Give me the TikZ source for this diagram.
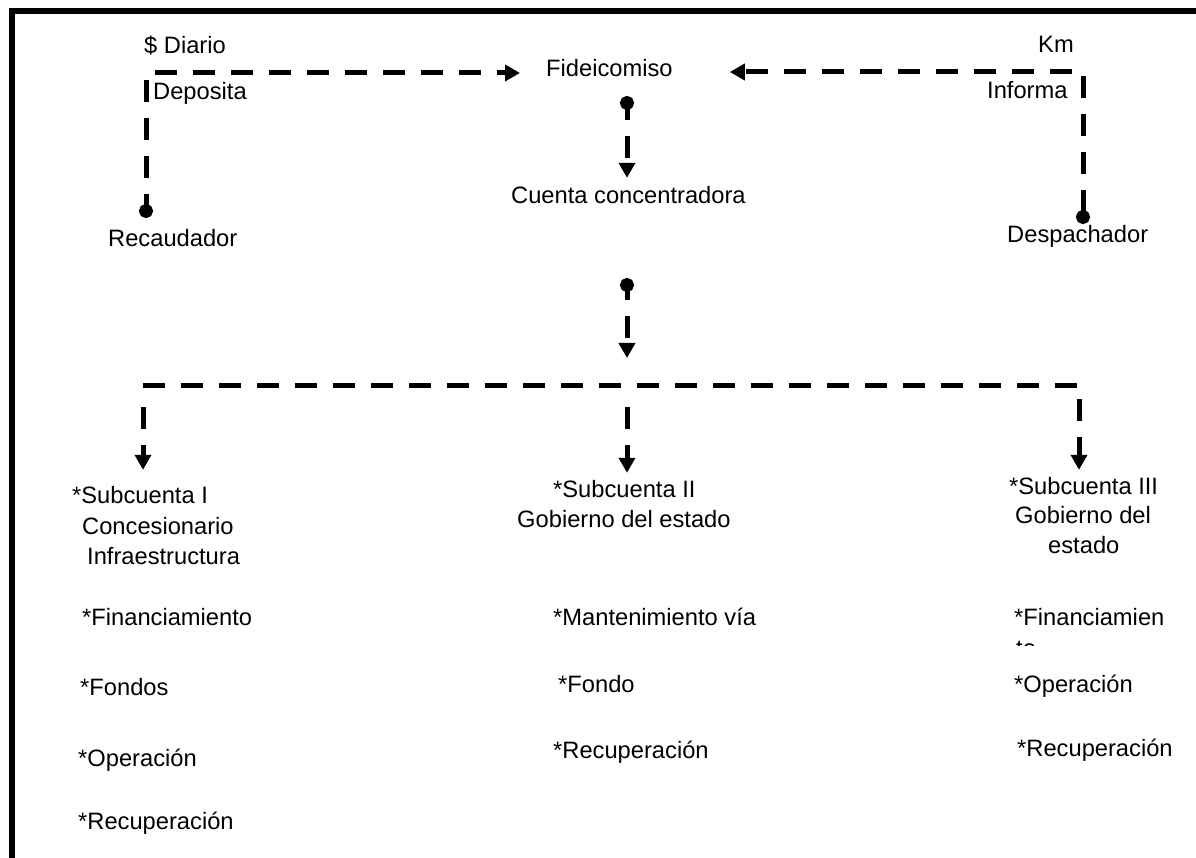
\documentclass[tikz,border=0pt]{standalone}
\usepackage{fontspec}
\setmainfont{Liberation Sans}
\usetikzlibrary{arrows.meta, calc}

\begin{document}
\begin{tikzpicture}[x=1pt, y=-1pt,
    txt/.style={anchor=base west, inner sep=0pt, text height=17pt, text depth=5pt,
        font=\fontsize{23.7pt}{31pt}\selectfont},
    dashline/.style={line width=5pt, dash pattern=on 22pt off 16pt},
    flow/.style={dashline, -{Triangle[length=15pt, width=16pt]}},
    dotflow/.style={dashline, {Circle[length=14pt]}-{Triangle[length=15pt, width=16pt]}}]

    \useasboundingbox (0,0) rectangle (1196,858);
    \draw[line width=5.5pt] (12,858) -- (12,11) -- (1196,11);

    \node[txt] (diario) at (144,54) {\$ Diario};
    \node[txt] (deposita) at (153,100) {Deposita};
    \node[txt] (recaudador) at (108,247) {Recaudador};
    \node[txt] (fide) at (546,77) {Fideicomiso};
    \node[txt] (cuenta) at (511,204) {Cuenta concentradora};
    \node[txt] (km) at (1038,53) {Km};
    \node[txt] (informa) at (987,99) {Informa};
    \node[txt] (despachador) at (1007,243) {Despachador};

    \node[txt] (sub1) at (72,503) {*Subcuenta I};
    \node[txt] (sub1b) at (82,534) {Concesionario};
    \node[txt] (sub1c) at (87,564) {Infraestructura};
    \node[txt] (fin1) at (82,625) {*Financiamiento};
    \node[txt] (fondos1) at (80,695) {*Fondos};
    \node[txt] (oper1) at (78,766) {*Operación};
    \node[txt] (recup1) at (78,829) {*Recuperación};

    \node[txt] (sub2) at (553,497) {*Subcuenta II};
    \node[txt] (sub2b) at (517,527) {Gobierno del estado};
    \node[txt] (mant2) at (553,625) {*Mantenimiento vía};
    \node[txt] (fondo2) at (558,692) {*Fondo};
    \node[txt] (recup2) at (553,758) {*Recuperación};

    \node[txt] (sub3) at (1009,494) {*Subcuenta III};
    \node[txt] (sub3b) at (1015,523) {Gobierno del};
    \node[txt] (sub3c) at (1048,553) {estado};
    \node[txt] (fin3) at (1014,625) {*Financiamien};
    \begin{scope}
        \clip (1000,600) rectangle (1196,645);
        \node[txt] (fin3b) at (1016,656) {to};
    \end{scope}
    \node[txt] (oper3) at (1014,692) {*Operación};
    \node[txt] (recup3) at (1017,756) {*Recuperación};

    \coordinate (recdot) at (146,218);
    \coordinate (despdot) at (1083,224);
    \coordinate (fidedot) at (627,96);
    \coordinate (cuentadot) at (627,278);
    \coordinate (split) at (627,358);
    \coordinate (busL) at (143,385);
    \coordinate (busM) at (627,385);
    \coordinate (busR) at (1079,385);
    \path ([yshift=9pt]cuenta.north) coordinate (cuentatip);

    \draw[dotflow, dash phase=10pt] (recdot) |- ([xshift=-26pt, yshift=-2pt]fide.west);
    \draw[dotflow, dash phase=0pt] (despdot) |- ([xshift=57pt, yshift=-1pt]fide.east);
    \draw[dotflow, dash phase=9pt] (fidedot) -- (fidedot |- cuentatip);
    \draw[dotflow, dash phase=11pt] (cuentadot) -- (split);

    \draw[flow, shorten >=7pt] (busL) -- (busR) -- (busR |- sub3.north);
    \draw[flow, shorten >=16pt] ([yshift=-22pt]busL) -- (busL |- sub1.north);
    \draw[flow, shorten >=7pt] ([yshift=-22pt]busM) -- (busM |- sub2.north);

\end{tikzpicture}
\end{document}
